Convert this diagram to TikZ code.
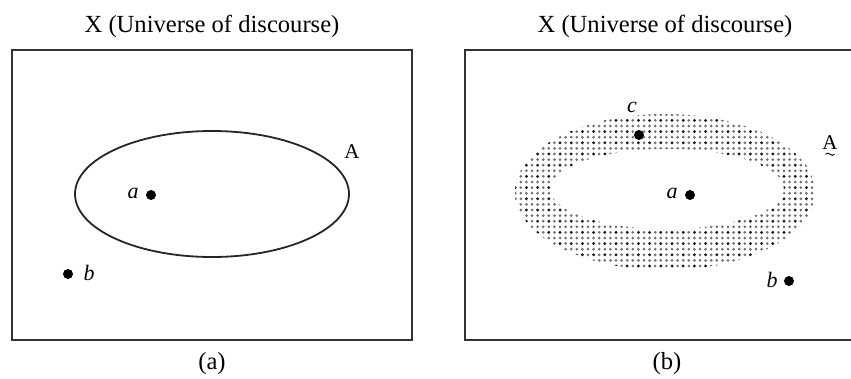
\documentclass[tikz,border=0pt]{standalone}
\usepackage{fontspec}
\setmainfont{Liberation Serif}
\usetikzlibrary{patterns.meta,positioning}

\begin{document}
\begin{tikzpicture}[x=1pt, y=-1pt,
  frame/.style={line width=1.8pt, draw=black!80},
  dotnode/.style={circle, fill=black, inner sep=0pt, minimum size=10pt},
  lbl/.style={font=\fontsize{22}{26}\selectfont\itshape, inner sep=0pt},
  setname/.style={font=\fontsize{21}{25}\selectfont, inner sep=0pt},
  ttl/.style={font=\fontsize{24.6}{30}\selectfont, anchor=base, inner sep=0pt}]
\useasboundingbox (0,0) rectangle (851,378);

% (a) crisp set
\node[ttl] (ttla) at (212,32) {X (Universe of discourse)};
\draw[frame] (12,50) rectangle (412,340);
\draw[line width=1.8pt, black!85] (212,194) ellipse [x radius=137, y radius=63];
\node[setname] (seta) at (352,152) {A};
\node[dotnode] (pa) at (151,195) {};
\node[lbl] (la) at (133,193) {a};
\node[dotnode] (pb) at (68,274) {};
\node[lbl] (lb) at (89,273) {b};
\node[ttl] (capa) at (212,369) {(a)};

% (b) fuzzy set
\node[ttl] (ttlb) at (665,32) {X (Universe of discourse)};
\draw[frame] (851,50) -- (465,50) -- (465,340) -- (851,340);
\path[even odd rule, pattern={Dots[distance=5.6pt, radius=1.5pt]}, pattern color=black!55]
  (665,192) ellipse [x radius=150, y radius=78]
  (667,189) ellipse [x radius=117, y radius=40];
\path[even odd rule, pattern={Dots[distance=11.2pt, radius=1.5pt]}, pattern color=black!90]
  (665,192) ellipse [x radius=150, y radius=78]
  (667,189) ellipse [x radius=117, y radius=40];
\node[setname] (setb) at (830,143) {A};
% tilde under the fuzzy set name
\draw[line width=0.9pt] ([xshift=-4.5pt, yshift=-4pt]setb.south) .. controls +(3,-4) and +(-3,4) .. ([xshift=4.5pt, yshift=-4pt]setb.south);
\node[dotnode] (pc) at (639,135) {};
\node[lbl] (lc) at (632,107) {c};
\node[dotnode] (pa2) at (690,195) {};
\node[lbl] (la2) at (672,193) {a};
\node[dotnode] (pb2) at (789,281) {};
\node[lbl] (lb2) at (772,280) {b};
\node[ttl] (capb) at (667,369) {(b)};
\end{tikzpicture}
\end{document}
